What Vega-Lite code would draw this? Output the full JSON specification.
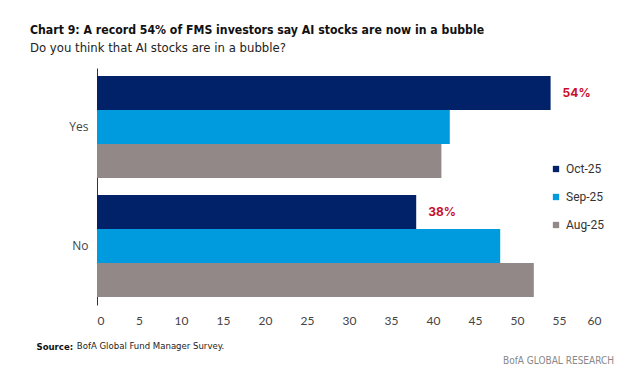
{
  "$schema": "https://vega.github.io/schema/vega-lite/v6.json",
  "width": 504,
  "height": 237,
  "autosize": {"type": "none"},
  "padding": {"left": 97, "top": 68, "right": 25, "bottom": 77},
  "background": "white",
  "config": {
    "view": {"stroke": null},
    "font": "DejaVu Sans Condensed, sans-serif"
  },
  "title": {
    "text": "Chart 9: A record 54% of FMS investors say AI stocks are now in a bubble",
    "subtitle": "Do you think that AI stocks are in a bubble?",
    "anchor": "start",
    "frame": "group",
    "dx": -67,
    "offset": 13,
    "font": "DejaVu Sans Condensed",
    "fontSize": 12.2,
    "fontWeight": "bold",
    "color": "#111111",
    "subtitleFont": "DejaVu Sans Condensed",
    "subtitleFontSize": 13,
    "subtitleColor": "#222222",
    "subtitlePadding": 6
  },
  "data": {
    "values": [
      {"answer": "Yes", "month": "Oct-25", "value": 54, "label": "54%"},
      {"answer": "Yes", "month": "Sep-25", "value": 42, "label": ""},
      {"answer": "Yes", "month": "Aug-25", "value": 41, "label": ""},
      {"answer": "No", "month": "Oct-25", "value": 38, "label": "38%"},
      {"answer": "No", "month": "Sep-25", "value": 48, "label": ""},
      {"answer": "No", "month": "Aug-25", "value": 52, "label": ""}
    ]
  },
  "encoding": {
    "y": {
      "field": "answer",
      "type": "nominal",
      "sort": ["Yes", "No"],
      "scale": {"paddingInner": 0.143, "paddingOuter": 0.067},
      "axis": {
        "title": null,
        "ticks": false,
        "labelPadding": 9,
        "labelFontSize": 12,
        "labelColor": "#444444",
        "labelFont": "Open Sans",
        "domainColor": "#333333",
        "domainWidth": 1
      }
    },
    "yOffset": {
      "field": "month",
      "type": "nominal",
      "sort": ["Oct-25", "Sep-25", "Aug-25"],
      "scale": {"paddingInner": 0, "paddingOuter": 0}
    },
    "x": {
      "field": "value",
      "type": "quantitative",
      "scale": {"domain": [0, 60], "nice": false},
      "axis": {
        "values": [0, 5, 10, 15, 20, 25, 30, 35, 40, 45, 50, 55, 60],
        "grid": false,
        "domain": false,
        "ticks": false,
        "labelPadding": 10,
        "labelFontSize": 12,
        "labelColor": "#444444",
        "labelFont": "Lato",
        "title": "Source:",
        "titleAnchor": null,
        "titleAlign": "left",
        "titleBaseline": "middle",
        "titleX": -61,
        "titleY": 41,
        "titleFont": "DejaVu Sans Condensed",
        "titleFontSize": 9.5,
        "titleFontWeight": "bold",
        "titleColor": "#111111"
      }
    }
  },
  "layer": [
    {
      "mark": {"type": "bar"},
      "encoding": {
        "color": {
          "field": "month",
          "type": "nominal",
          "scale": {
            "domain": ["Oct-25", "Sep-25", "Aug-25"],
            "range": ["#012169", "#009ADE", "#918887"]
          },
          "legend": {
            "title": null,
            "orient": "none",
            "legendX": 453,
            "legendY": 95,
            "symbolType": "square",
            "symbolSize": 40,
            "symbolStrokeWidth": 0,
            "labelFontSize": 12,
            "labelFont": "Roboto",
            "labelColor": "#333333",
            "rowPadding": 16,
            "labelOffset": 4
          }
        }
      }
    },
    {
      "transform": [{"filter": "datum.label != ''"}],
      "mark": {
        "type": "text",
        "align": "left",
        "baseline": "middle",
        "dx": 12,
        "fontSize": 12,
        "fontWeight": "bold",
        "font": "Inter",
        "color": "#C8102E"
      },
      "encoding": {"text": {"field": "label"}}
    },
    {
      "data": {"values": [{"answer": "No", "month": "Sep-25", "pos": -2.4, "note": "BofA Global Fund Manager Survey."}]},
      "mark": {
        "type": "text",
        "align": "left",
        "baseline": "middle",
        "dy": 100,
        "fontSize": 9.5,
        "font": "DejaVu Sans Condensed",
        "color": "#222222"
      },
      "encoding": {
        "x": {"field": "pos", "type": "quantitative"},
        "text": {"field": "note"}
      }
    },
    {
      "data": {"values": [{"answer": "No", "month": "Sep-25", "pos": 60, "note": "BofA GLOBAL RESEARCH"}]},
      "mark": {
        "type": "text",
        "align": "right",
        "baseline": "middle",
        "dx": 13,
        "dy": 115,
        "fontSize": 10,
        "font": "DejaVu Sans Condensed",
        "color": "#888888"
      },
      "encoding": {
        "x": {"field": "pos", "type": "quantitative"},
        "text": {"field": "note"}
      }
    }
  ]
}
